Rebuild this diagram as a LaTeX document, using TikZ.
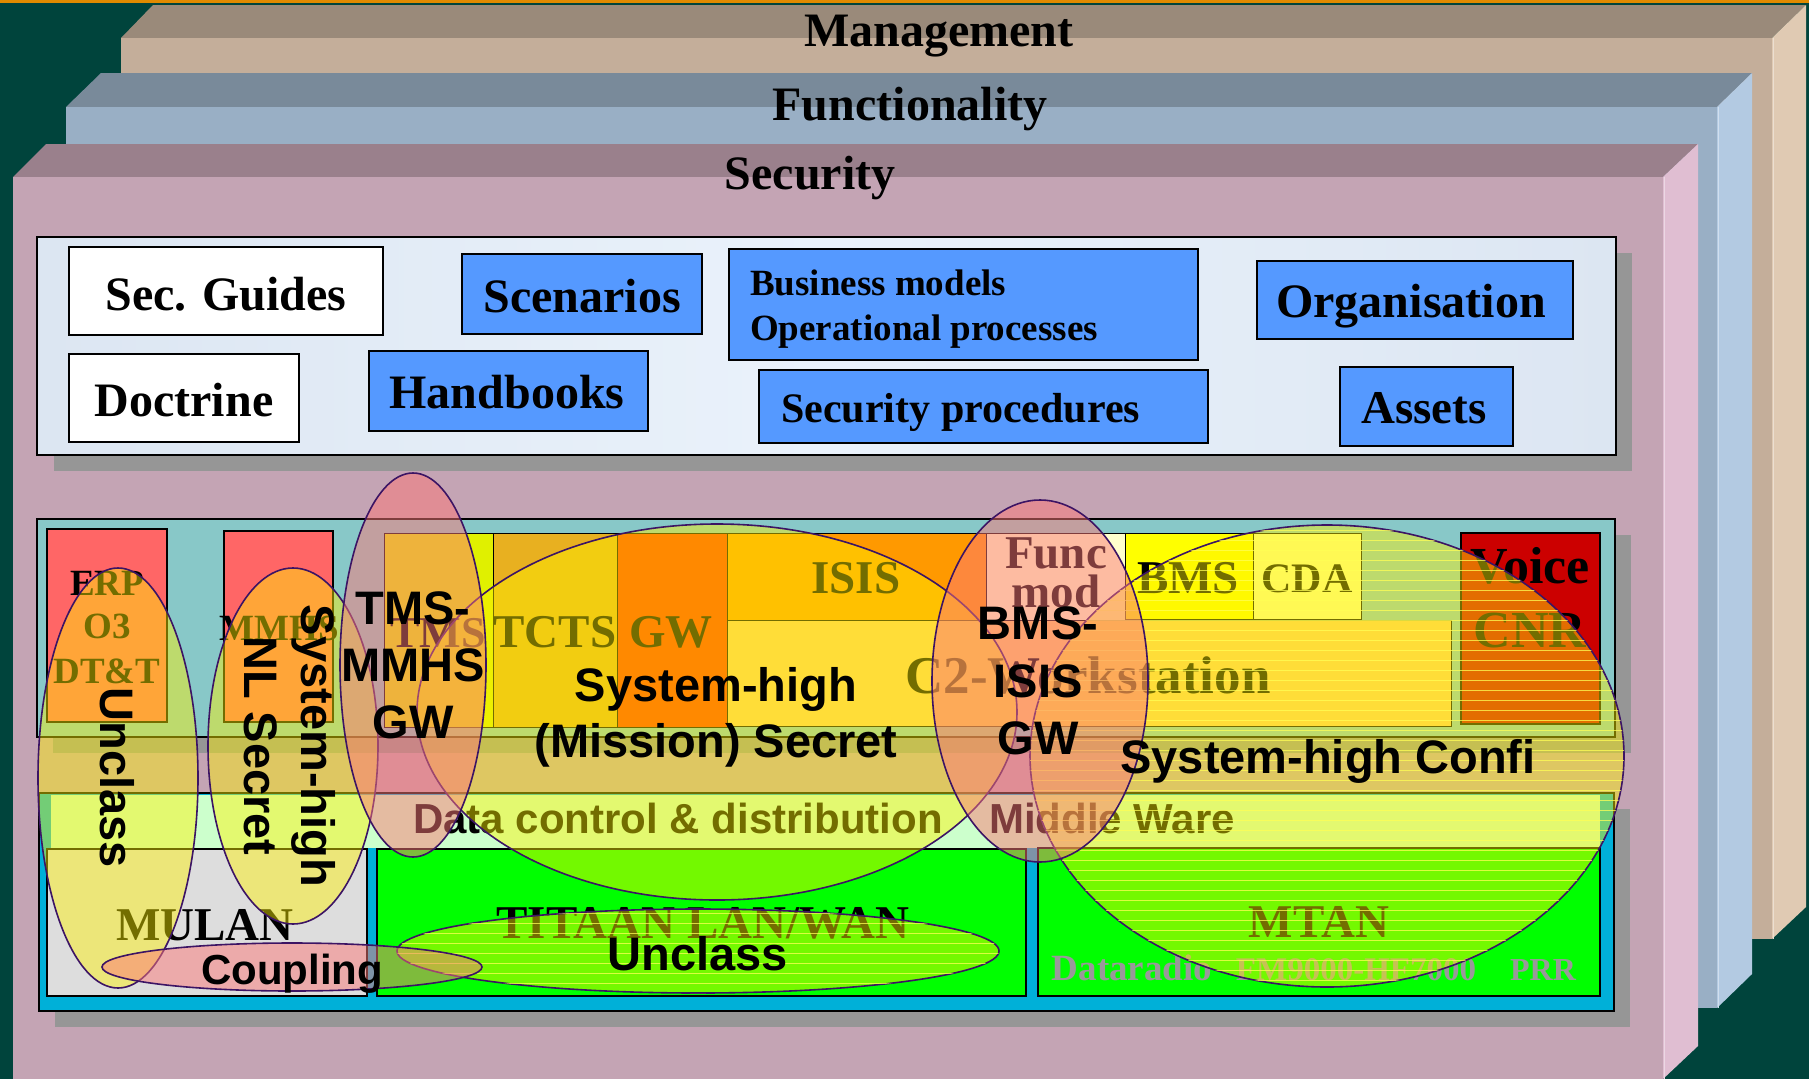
\documentclass[tikz,border=0pt]{standalone}
\usepackage{fontspec}
\setmainfont{Liberation Serif}
\newfontfamily\arialf{Liberation Sans}
\definecolor{bgteal}{HTML}{00443C}
\definecolor{topline}{HTML}{E08A00}
\definecolor{mgtop}{HTML}{9A8A7A}
\definecolor{mgfront}{HTML}{C4AE9A}
\definecolor{mgside}{HTML}{E0CAB3}
\definecolor{fntop}{HTML}{798A9A}
\definecolor{fnfront}{HTML}{99AFC5}
\definecolor{fnside}{HTML}{B3CAE2}
\definecolor{sctop}{HTML}{9A808C}
\definecolor{scfront}{HTML}{C4A4B4}
\definecolor{scside}{HTML}{E0BED2}
\definecolor{panelA}{HTML}{DCE6F2}
\definecolor{panelB}{HTML}{EAF2FB}
\definecolor{shadowgray}{HTML}{969696}
\definecolor{boxblue}{HTML}{5599FF}
\definecolor{tealp}{HTML}{88C8C8}
\definecolor{cyanp}{HTML}{00B0D8}
\definecolor{mint}{HTML}{CCFFCC}
\definecolor{redbox}{HTML}{FF6666}
\definecolor{tmsbox}{HTML}{E0F000}
\definecolor{tctsbox}{HTML}{E8B020}
\definecolor{gwbox}{HTML}{FF3300}
\definecolor{isisbox}{HTML}{FF9900}
\definecolor{ctwobox}{HTML}{FFCC66}
\definecolor{funcbox}{HTML}{FFFFCC}
\definecolor{bmsbox}{HTML}{FFFF00}
\definecolor{cdabox}{HTML}{FFFF99}
\definecolor{voicebox}{HTML}{CC0000}
\definecolor{mulanbox}{HTML}{DDDDDD}
\definecolor{greenbox}{HTML}{00FF00}
\definecolor{ellline}{HTML}{3C1464}
\definecolor{pinkov}{HTML}{FC7878}
\definecolor{grayt}{HTML}{999999}
\definecolor{stripecol}{HTML}{FFFF55}
\tikzset{
  ser/.style={font=\bfseries\fontsize{#1}{#1}\selectfont, inner sep=0pt},
  san/.style={font=\arialf\bfseries\fontsize{#1}{#1}\selectfont, inner sep=0pt},
  bx/.style={draw=black, line width=1.2pt},
  yellell/.style={fill=yellow, fill opacity=0.45, draw=ellline, line width=1.6pt},
  pinkell/.style={fill=pinkov, fill opacity=0.5, draw=ellline, line width=1.6pt},
  stripe/.style={draw=stripecol, line width=0.8pt, opacity=0.75},
}
\begin{document}
\begin{tikzpicture}[x=1pt,y=-1pt]
\useasboundingbox (0,0) rectangle (1809,1079);
\fill[bgteal] (0,0) rectangle (1809,1079);
\fill[topline] (0,0) rectangle (1809,3);

% ---------- Management layer
\fill[mgtop] (121,38) -- (153,5) -- (1806,5) -- (1772,38) -- cycle;
\fill[mgfront] (121,38) rectangle (1772,939);
\fill[mgside] (1772,38) -- (1806,5) -- (1806,907) -- (1772,939) -- cycle;
\draw[mgside!60!white, line width=1pt] (1773,38) -- (1773,939);
% ---------- Functionality layer
\fill[fntop] (66,107) -- (101,73) -- (1752,73) -- (1717,107) -- cycle;
\fill[fnfront] (66,107) rectangle (1717,1008);
\fill[fnside] (1717,107) -- (1752,73) -- (1752,974) -- (1717,1008) -- cycle;
\draw[fnside!60!white, line width=1pt] (1718,107) -- (1718,1008);
% ---------- Security layer
\fill[sctop] (13,177) -- (46,144) -- (1698,144) -- (1663,177) -- cycle;
\fill[scfront] (13,177) rectangle (1663,1079);
\fill[scside] (1663,177) -- (1698,144) -- (1698,1046) -- (1663,1079) -- cycle;
\draw[scside!60!white, line width=1pt] (1664,177) -- (1664,1079);

\node[ser=48, anchor=base] (tMan) at (939,46) {Management};
\node[ser=48, anchor=base] (tFun) at (910,120) {Functionality};
\node[ser=48, anchor=base] (tSec) at (810,189) {Security};

% ---------- upper panel
\fill[shadowgray] (54,253) rectangle (1632,471);
\shadedraw[left color=panelA, right color=panelA, middle color=panelB, draw=black, line width=1.2pt] (37,237) rectangle (1616,455);
\draw[bx, fill=white] (69,247) rectangle (383,335);
\node[ser=48, anchor=base] (secg) at (226,310) {Sec. Guides};
\draw[bx, fill=white] (69,354) rectangle (299,442);
\node[ser=48, anchor=base] (doct) at (184,416) {Doctrine};
\draw[bx, fill=boxblue] (462,254) rectangle (702,334);
\node[ser=48, anchor=base] (scen) at (582,312) {Scenarios};
\draw[bx, fill=boxblue] (369,351) rectangle (648,431);
\node[ser=48, anchor=base] (hand) at (507,408) {Handbooks};
\draw[bx, fill=boxblue] (729,249) rectangle (1198,360);
\node[ser=37, anchor=base west] (busm) at (750,295) {Business models};
\node[ser=37, anchor=base west] (oppr) at (750,340) {Operational processes};
\draw[bx, fill=boxblue] (759,370) rectangle (1208,443);
\node[ser=42, anchor=base west] (secp) at (781,422) {Security procedures};
\draw[bx, fill=boxblue] (1257,261) rectangle (1573,339);
\node[ser=48, anchor=base] (orga) at (1411,317) {Organisation};
\draw[bx, fill=boxblue] (1340,367) rectangle (1513,446);
\node[ser=47, anchor=base] (asse) at (1424,423) {Assets};

% ---------- teal application panel
\fill[shadowgray] (53,535) rectangle (1631,753);
\draw[bx, fill=tealp] (37,519) rectangle (1615,737);
\draw[bx, fill=redbox] (47,529) rectangle (167,722);
\node[ser=37, anchor=base] (erp) at (107,595) {ERP};
\node[ser=37, anchor=base] (othree) at (107,638) {O3};
\node[ser=37, anchor=base] (dtt) at (107,683) {DT\&T};
\draw[bx, fill=redbox] (224,531) rectangle (333,722);
\node[ser=37, anchor=base] (mmhs) at (279,640) {MMHS};
\draw[bx, line width=1pt, fill=tmsbox] (384,533) rectangle (493,727);
\draw[bx, line width=1pt, fill=tctsbox] (493,533) rectangle (617,727);
\draw[bx, line width=1pt, fill=gwbox] (617,533) rectangle (727,727);
\node[ser=44, anchor=base] (tms) at (438,647) {TMS};
\node[ser=47, anchor=base] (tcts) at (555,647) {TCTS};
\node[ser=47, anchor=base] (gw) at (671,647) {GW};
\draw[bx, line width=1pt, fill=isisbox] (727,533) rectangle (986,620);
\node[ser=47, anchor=base] (isis) at (856,593) {ISIS};
\draw[bx, line width=1pt, fill=ctwobox] (727,620) rectangle (1451,726);
\node[ser=53, anchor=base] (ctwo) at (1088,693) {C2-Workstation};
\draw[bx, line width=1pt, fill=funcbox] (986,533) rectangle (1125,620);
\node[ser=47, anchor=base] (func) at (1056,568) {Func};
\node[ser=47, anchor=base] (fmod) at (1056,607) {mod};
\draw[bx, line width=1pt, fill=bmsbox] (1125,533) rectangle (1253,619);
\node[ser=47, anchor=base] (bms) at (1188,593) {BMS};
\draw[bx, line width=1pt, fill=cdabox] (1253,533) rectangle (1361,619);
\node[ser=42, anchor=base] (cda) at (1307,592) {CDA};
\draw[bx, fill=voicebox] (1461,533) rectangle (1600,724);
\node[ser=52, anchor=base] (voice) at (1530,583) {Voice};
\node[ser=52, anchor=base] (cnr) at (1530,647) {CNR};

% ---------- cyan network panel
\fill[shadowgray] (55,809) rectangle (1630,1027);
\draw[bx, fill=cyanp] (39,793) rectangle (1614,1011);
\fill[mint] (51,795) rectangle (1600,848);
\node[san=42, anchor=base west] (dcd) at (413,833) {Data control \& distribution};
\node[san=42, anchor=base west] (mware) at (989,833) {Middle Ware};
\draw[bx, fill=mulanbox] (47,849) rectangle (367,996);
\node[ser=47, anchor=base] (mulan) at (205,940) {MULAN};
\draw[bx, fill=greenbox] (377,849) rectangle (1026,996);
\node[ser=47, anchor=base] (titaan) at (703,938) {TITAAN LAN/WAN};
\draw[bx, fill=greenbox] (1038,848) rectangle (1600,996);
\node[ser=47, anchor=base] (mtan) at (1319,937) {MTAN};
\node[ser=37, anchor=base, text=grayt] (dradio) at (1132,980) {Dataradio};
\node[ser=33, anchor=base, text=grayt] (fmhf) at (1356,980) {FM9000-HF7000};
\node[ser=32, anchor=base, text=grayt] (prr) at (1543,980) {PRR};

% ---------- yellow security domains
\path[yellell] (118,778) ellipse [x radius=80pt, y radius=210pt];
\path[yellell] (293,746) ellipse [x radius=85pt, y radius=178pt];
\path[yellell] (717,712) ellipse [x radius=300pt, y radius=188pt];
\path[yellell] (1327,756) ellipse [x radius=297pt, y radius=231pt];
\begin{scope}
  \clip (1327,756) ellipse [x radius=297pt, y radius=231pt];
  \foreach \yy in {530,540,...,990} \draw[stripe] (1025,\yy) -- (1630,\yy);
\end{scope}
\path[yellell] (698,951) ellipse [x radius=301pt, y radius=42pt];
\begin{scope}
  \clip (698,951) ellipse [x radius=301pt, y radius=42pt];
  \foreach \yy in {913,923,...,993} \draw[stripe] (395,\yy) -- (1002,\yy);
\end{scope}
% ---------- pink gateways
\path[pinkell] (413,665) ellipse [x radius=73pt, y radius=192pt];
\path[pinkell] (1040,681) ellipse [x radius=108pt, y radius=181pt];
\path[pinkell] (292,967) ellipse [x radius=190pt, y radius=24pt];

% ---------- domain labels
\node[san=47, rotate=-90, anchor=base] (lunc) at (100,778) {Unclass};
\node[font=\arialf\bfseries\fontsize{47}{57}\selectfont, align=center, inner sep=0pt, rotate=-90] (lnl) at (290,746) {System-high\\NL Secret};
\node[font=\arialf\bfseries\fontsize{47}{57}\selectfont, align=center, inner sep=0pt] (ltms) at (413,665) {TMS-\\MMHS\\GW};
\node[font=\arialf\bfseries\fontsize{47}{56}\selectfont, align=center, inner sep=0pt] (lsec) at (716,717) {System-high\\(Mission) Secret};
\node[font=\arialf\bfseries\fontsize{47}{57.5}\selectfont, align=center, inner sep=0pt] (lbms) at (1038,681) {BMS-\\ISIS\\GW};
\node[san=47, anchor=base] (lconf) at (1328,773) {System-high Confi};
\node[san=47, anchor=base] (lunctwo) at (698,970) {Unclass};
\node[san=42, anchor=base] (lcoup) at (292,984) {Coupling};
\end{tikzpicture}
\end{document}
